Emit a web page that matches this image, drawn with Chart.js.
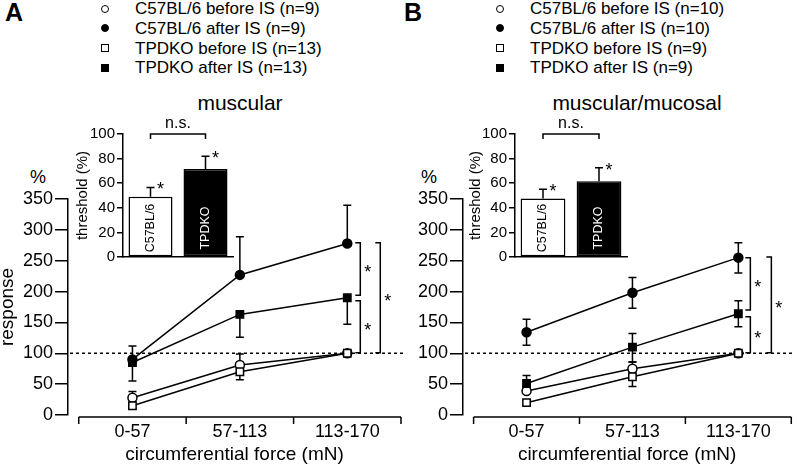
<!DOCTYPE html>
<html>
<head>
<meta charset="utf-8">
<script src="https://cdn.jsdelivr.net/npm/chart.js@4.4.1/dist/chart.umd.min.js"></script>
<style>
  body { margin: 0; background: #fff; }
  #wrap { position: relative; width: 798px; height: 467px; overflow: hidden;
          font-family: "Liberation Sans", Arial, sans-serif; color: #000; }
  .abs { position: absolute; white-space: nowrap; }
  canvas { position: absolute; }
  .mk { position: absolute; width: 6px; height: 6px; border: 1.5px solid #000; }
</style>
</head>
<body>
<div id="wrap">
  <div class="abs" style="left:5px;top:0px;font-size:25px;line-height:25px;font-weight:bold">A</div>
  <div class="abs" style="left:404px;top:0px;font-size:25px;line-height:25px;font-weight:bold">B</div>
  <div id="legA"></div>
  <div id="legB"></div>
  <div class="abs" style="left:140px;width:200px;text-align:center;top:92px;font-size:21px;line-height:21px">muscular</div>
  <div class="abs" style="left:537px;width:200px;text-align:center;top:92px;font-size:21px;line-height:21px">muscular/mucosal</div>
  <div class="abs" style="left:30px;top:168px;font-size:18px;line-height:18px">%</div>
  <div class="abs" style="left:421px;top:168px;font-size:18px;line-height:18px">%</div>

  <canvas id="mainA" width="410" height="282" style="left:0;top:185px"></canvas>
  <canvas id="mainB" width="398" height="282" style="left:400px;top:185px"></canvas>
  <canvas id="insetA" width="180" height="161" style="left:60px;top:108px"></canvas>
  <canvas id="insetB" width="180" height="161" style="left:453px;top:108px"></canvas>
</div>

<script>
/* ---- data ---- */
const CATS = ['0-57', '57-113', '113-170'];
const REF_LEVEL = 100;
const INSET_LABELS = ['C57BL/6', 'TPDKO'];

// panel A - muscular
const A_LEGEND = ['C57BL/6 before IS (n=9)', 'C57BL/6 after IS (n=9)', 'TPDKO before IS (n=13)', 'TPDKO after IS (n=13)'];
const A_WT_PRE = [28, 81, 100];
const A_WT_PRE_UP = [10, 18, 0];
const A_WT_POST = [90, 227, 278];
const A_WT_POST_UP = [22, 62, 62];
const A_KO_PRE = [15, 70, 100];
const A_KO_PRE_DN = [0, 13, 0];
const A_KO_POST = [85, 163, 190];
const A_KO_POST_DN = [30, 37, 43];
const A_THR = [49, 71.5];
const A_THR_ERR = [7.5, 10.5];
const A_BRACKETS = [[279, 194], [185, 101], [279, 101]];

// panel B - muscular/mucosal
const B_LEGEND = ['C57BL/6 before IS (n=10)', 'C57BL/6 after IS (n=10)', 'TPDKO before IS (n=9)', 'TPDKO after IS (n=9)'];
const B_WT_PRE = [39, 75, 100];
const B_WT_PRE_UP = [8, 11, 0];
const B_WT_POST = [134, 198, 255];
const B_WT_POST_UP = [21, 25, 24];
const B_WT_POST_DN = [21, 25, 25];
const B_KO_PRE = [20, 62, 100];
const B_KO_PRE_DN = [0, 16, 0];
const B_KO_POST = [51, 110, 164];
const B_KO_POST_UP = [13, 22, 21];
const B_KO_POST_DN = [13, 24, 21];
const B_THR = [47.5, 61.5];
const B_THR_ERR = [7.5, 11];
const B_BRACKETS = [[255, 170], [159, 101], [256, 101]];

/* ---- styles ---- */
const FONT = '"Liberation Sans", Arial, sans-serif';
Chart.defaults.font.family = FONT;
Chart.defaults.color = '#000';

// open circle, filled circle, open square, filled square
const STYLES = [
  { shape: 'circle', fill: '#fff', r: 4.5, order: 3 },
  { shape: 'circle', fill: '#000', r: 4.5, order: 4 },
  { shape: 'rect',   fill: '#fff', r: 5.2, order: 1 },
  { shape: 'rect',   fill: '#000', r: 5.2, order: 2 }
];

function buildLegend(el, names, markX, textX) {
  const host = document.getElementById(el);
  names.forEach((name, i) => {
    const cy = 9 + i * 19.8;
    const s = STYLES[i];
    const mk = document.createElement('div');
    mk.className = 'mk';
    mk.style.left = (markX - 4.5) + 'px';
    mk.style.top = (cy - 4.5) + 'px';
    mk.style.background = s.fill;
    if (s.shape === 'circle') mk.style.borderRadius = '50%';
    host.appendChild(mk);
    const t = document.createElement('div');
    t.className = 'abs';
    t.style.cssText += `left:${textX}px;top:${cy - 9}px;font-size:17px;line-height:18px`;
    t.textContent = name;
    host.appendChild(t);
  });
}
buildLegend('legA', A_LEGEND, 105, 135);
buildLegend('legB', B_LEGEND, 500, 130 + 400);

/* ---- plugins ---- */
const errorBars = {
  id: 'errorBars',
  beforeDatasetsDraw(chart, args, opts) {
    const { ctx } = chart;
    const ys = chart.scales.y;
    ctx.save();
    ctx.strokeStyle = '#000';
    ctx.lineWidth = 1.5;
    chart.data.datasets.forEach((ds, i) => {
      const meta = chart.getDatasetMeta(i);
      meta.data.forEach((el, j) => {
        const d = ds.data[j];
        const v = typeof d === 'object' ? d.y : d;
        const ends = [];
        if (ds.errUp && ds.errUp[j]) ends.push(v + ds.errUp[j]);
        if (ds.errDown && ds.errDown[j]) ends.push(v - ds.errDown[j]);
        ends.forEach(e => {
          const py = ys.getPixelForValue(e);
          ctx.beginPath();
          ctx.moveTo(el.x, ys.getPixelForValue(v));
          ctx.lineTo(el.x, py);
          ctx.moveTo(el.x - opts.cap, py);
          ctx.lineTo(el.x + opts.cap, py);
          ctx.stroke();
        });
      });
    });
    ctx.restore();
  }
};

function star(ctx, x, y, size) {
  ctx.font = size + 'px ' + FONT;
  ctx.textAlign = 'center';
  ctx.textBaseline = 'middle';
  ctx.fillText('*', x, y + size * 0.22);
}

const refLine = {
  id: 'refLine',
  beforeDatasetsDraw(chart, args, opts) {
    const { ctx, chartArea } = chart;
    const y = chart.scales.y.getPixelForValue(opts.value);
    ctx.save();
    ctx.strokeStyle = '#000';
    ctx.lineWidth = 1.5;
    ctx.setLineDash([3, 3]);
    ctx.beginPath();
    ctx.moveTo(chartArea.left + 2, y);
    ctx.lineTo(chartArea.right + 2, y);
    ctx.stroke();
    ctx.restore();
  }
};

const catAxis = {
  id: 'catAxis',
  afterDraw(chart) {
    const { ctx, chartArea } = chart;
    const xs = chart.scales.x;
    const y = chartArea.bottom + 2;
    const x0 = xs.getPixelForValue(-0.5), x1 = xs.getPixelForValue(CATS.length - 0.5);
    ctx.save();
    ctx.strokeStyle = '#000';
    ctx.lineWidth = 1.5;
    ctx.beginPath();
    ctx.moveTo(x0, y);
    ctx.lineTo(x1, y);
    for (let i = 0; i <= CATS.length; i++) {
      const x = xs.getPixelForValue(i - 0.5);
      ctx.moveTo(x, y);
      ctx.lineTo(x, y + 7);
    }
    ctx.stroke();
    ctx.restore();
  }
};

const brackets = {
  id: 'brackets',
  afterDatasetsDraw(chart, args, opts) {
    const { ctx } = chart;
    const xs = chart.scales.x, ys = chart.scales.y;
    const xc = xs.getPixelForValue(CATS.length - 1);
    ctx.save();
    ctx.strokeStyle = '#000';
    ctx.fillStyle = '#000';
    ctx.lineWidth = 1.5;
    opts.pairs.forEach((p, k) => {
      const x = xc + opts.dx[k];
      const y0 = ys.getPixelForValue(p[0]), y1 = ys.getPixelForValue(p[1]);
      ctx.beginPath();
      ctx.moveTo(x - 5, y0);
      ctx.lineTo(x, y0);
      ctx.lineTo(x, y1);
      ctx.lineTo(x - 5, y1);
      ctx.stroke();
      star(ctx, x + 7.5, (y0 + y1) / 2, 18);
    });
    ctx.restore();
  }
};

const insetMarks = {
  id: 'insetMarks',
  afterDatasetsDraw(chart, args, opts) {
    const { ctx, chartArea } = chart;
    const ys = chart.scales.y;
    const ds = chart.data.datasets[0];
    const bars = chart.getDatasetMeta(0).data;
    ctx.save();
    ctx.fillStyle = '#000';
    // stars next to the error caps
    bars.forEach((b, j) => {
      const py = ys.getPixelForValue(ds.data[j] + ds.errUp[j]);
      star(ctx, b.x + 10, py - 1, 18);
    });
    // n.s. bracket
    const yb = ys.getPixelForValue(100);
    ctx.strokeStyle = '#000';
    ctx.lineWidth = 1.5;
    ctx.beginPath();
    ctx.moveTo(bars[0].x, yb + 5);
    ctx.lineTo(bars[0].x, yb);
    ctx.lineTo(bars[1].x, yb);
    ctx.lineTo(bars[1].x, yb + 5);
    ctx.stroke();
    ctx.font = '16px ' + FONT;
    ctx.textAlign = 'center';
    ctx.textBaseline = 'middle';
    ctx.fillText('n.s.', (bars[0].x + bars[1].x) / 2, yb - 10);
    // category names inside the bars
    ctx.font = '12.5px ' + FONT;
    bars.forEach((b, j) => {
      ctx.save();
      ctx.translate(b.x, chartArea.bottom - 29);
      ctx.rotate(-Math.PI / 2);
      ctx.fillStyle = j === 0 ? '#000' : '#fff';
      ctx.fillText(chart.data.labels[j], 0, 0);
      ctx.restore();
    });
    ctx.restore();
  }
};

/* ---- charts ---- */
function mainChart(id, series, pairs, dx, yW, padR, yTitle) {
  return new Chart(document.getElementById(id), {
    type: 'scatter',
    data: {
      datasets: series.map((s, k) => ({
        data: s.vals.map((v, i) => ({ x: i, y: v })),
        errUp: s.up, errDown: s.dn,
        showLine: true,
        borderColor: '#000',
        borderWidth: 1.5,
        pointStyle: STYLES[k].shape,
        pointRadius: STYLES[k].r,
        pointBackgroundColor: STYLES[k].fill,
        pointBorderColor: '#000',
        pointBorderWidth: 1.5,
        order: STYLES[k].order,
        clip: false
      }))
    },
    options: {
      responsive: false,
      animation: false,
      devicePixelRatio: 1,
      layout: { padding: { top: 14, right: padR, left: 0, bottom: 0 } },
      plugins: {
        legend: { display: false },
        tooltip: { enabled: false },
        errorBars: { cap: 4 },
        refLine: { value: REF_LEVEL },
        brackets: { pairs: pairs, dx: dx }
      },
      scales: {
        x: {
          type: 'linear', min: -0.6, max: CATS.length - 0.5,
          afterBuildTicks: s => { s.ticks = CATS.map((c, i) => ({ value: i })); },
          afterFit: s => { s.height = 52; },
          ticks: { callback: v => CATS[v], font: { size: 18 }, color: '#000', padding: 2, autoSkip: false, maxRotation: 0 },
          grid: { display: false, drawTicks: true, tickLength: 4 },
          border: { display: false },
          title: { display: true, text: 'circumferential force (mN)', font: { size: 19 }, color: '#000', padding: { top: 0, bottom: 1 } }
        },
        y: {
          min: 0, max: 350,
          afterFit: s => { s.width = yW; },
          ticks: { stepSize: 50, font: { size: 18 }, color: '#000', padding: 2 },
          grid: { drawOnChartArea: false, color: '#000', lineWidth: 1.5, tickLength: 13 },
          border: { display: true, color: '#000', width: 1.5 },
          title: { display: !!yTitle, text: yTitle || '', font: { size: 19, lineHeight: 0.8 }, color: '#000', padding: { top: 0, bottom: 0 } }
        }
      }
    },
    plugins: [errorBars, refLine, catAxis, brackets]
  });
}

function insetChart(id, vals, err, yW, padR) {
  return new Chart(document.getElementById(id), {
    type: 'bar',
    data: {
      labels: INSET_LABELS,
      datasets: [{
        data: vals,
        errUp: err,
        backgroundColor: ['#fff', '#000'],
        borderColor: '#000',
        borderWidth: 1.5,
        borderSkipped: false,
        barPercentage: 0.8,
        categoryPercentage: 1
      }]
    },
    options: {
      responsive: false,
      animation: false,
      devicePixelRatio: 1,
      layout: { padding: { top: 26, right: padR, left: 0, bottom: 12 } },
      plugins: {
        legend: { display: false },
        tooltip: { enabled: false },
        errorBars: { cap: 4 },
        insetMarks: {}
      },
      scales: {
        x: {
          ticks: { display: false },
          grid: { display: false, drawTicks: false },
          border: { display: true, color: '#000', width: 1.5 },
          afterFit: s => { s.height = 0; }
        },
        y: {
          min: 0, max: 100,
          afterFit: s => { s.width = yW; },
          ticks: { stepSize: 20, font: { size: 15 }, color: '#000', padding: 2 },
          grid: { drawOnChartArea: false, color: '#000', lineWidth: 1.5, tickLength: 6 },
          border: { display: true, color: '#000', width: 1.5 },
          title: { display: true, text: 'threshold (%)', font: { size: 15 }, color: '#000', padding: { top: 14, bottom: 0 } }
        }
      }
    },
    plugins: [errorBars, insetMarks]
  });
}

mainChart('mainA', [
  { vals: A_WT_PRE, up: A_WT_PRE_UP },
  { vals: A_WT_POST, up: A_WT_POST_UP },
  { vals: A_KO_PRE, dn: A_KO_PRE_DN },
  { vals: A_KO_POST, dn: A_KO_POST_DN }
], A_BRACKETS, [13, 13, 33], 68, 9, 'response');

mainChart('mainB', [
  { vals: B_WT_PRE, up: B_WT_PRE_UP },
  { vals: B_WT_POST, up: B_WT_POST_UP, dn: B_WT_POST_DN },
  { vals: B_KO_PRE, dn: B_KO_PRE_DN },
  { vals: B_KO_POST, up: B_KO_POST_UP, dn: B_KO_POST_DN }
], B_BRACKETS, [12, 12, 33], 63, 1, '');

insetChart('insetA', A_THR, A_THR_ERR, 63, 7);
insetChart('insetB', B_THR, B_THR_ERR, 62, 6);
</script>
</body>
</html>
